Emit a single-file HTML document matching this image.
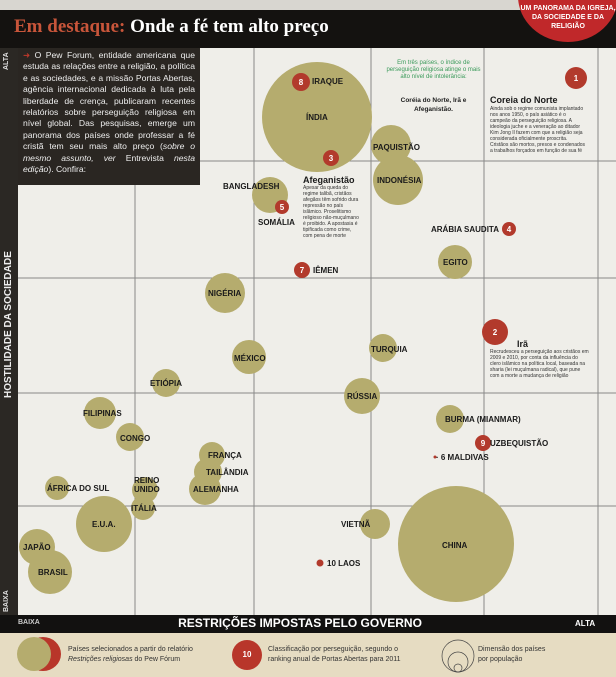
<!DOCTYPE html>
<html><head><meta charset="utf-8"><style>
body{margin:0;width:616px;height:677px;overflow:hidden;background:#efeee9;font-family:"Liberation Sans",sans-serif;position:relative}
.a{position:absolute}
.l{position:absolute;font-weight:bold;font-size:8px;color:#1a1a1a;white-space:nowrap}
.t{position:absolute;font-size:5px;color:#333;line-height:6px}
</style></head><body>
<div class="a" style="left:0;top:0;width:616px;height:10px;background:#d8d6d0"></div>
<div class="a" style="left:0;top:10px;width:616px;height:38px;background:#141210"></div>
<div class="a" style="left:14px;top:16px;font-family:'Liberation Serif',serif;font-weight:bold;font-size:19px;color:#fff"><span style="color:#c8553a">Em destaque:</span> Onde a fé tem alto preço</div>
<div class="a" style="left:518px;top:-50px;width:100px;height:92px;border-radius:50%;background:#c0282a"></div>
<div class="a" style="left:518px;top:4px;width:100px;text-align:center;font-size:7px;font-weight:bold;color:#fff;line-height:9px">UM PANORAMA DA IGREJA,<br>DA SOCIEDADE E DA<br>RELIGIÃO</div>
<div class="a" style="left:0;top:48px;width:18px;height:584px;background:#2b2824"></div>
<div class="a" style="left:3px;top:70px;transform:rotate(-90deg);transform-origin:left top;font-size:7px;font-weight:bold;color:#ddd">ALTA</div>
<div class="a" style="left:3px;top:398px;transform:rotate(-90deg);transform-origin:left top;font-size:10px;font-weight:bold;color:#eee;white-space:nowrap">HOSTILIDADE DA SOCIEDADE</div>
<div class="a" style="left:3px;top:612px;transform:rotate(-90deg);transform-origin:left top;font-size:7px;font-weight:bold;color:#ddd">BAIXA</div>
<svg class="a" style="left:18px;top:48px" width="598" height="567">
<g stroke="#888" stroke-width="1" fill="none">
<line x1="117" y1="0" x2="117" y2="567"/><line x1="236" y1="0" x2="236" y2="567"/><line x1="353" y1="0" x2="353" y2="567"/><line x1="466" y1="0" x2="466" y2="567"/><line x1="580" y1="0" x2="580" y2="567"/>
<line x1="0" y1="113" x2="598" y2="113"/><line x1="0" y1="230" x2="598" y2="230"/><line x1="0" y1="345" x2="598" y2="345"/><line x1="0" y1="458" x2="598" y2="458"/>
</g>
<g fill="#b5ac6e">
<circle cx="299" cy="69" r="55"/><circle cx="373" cy="97" r="20"/><circle cx="380" cy="132" r="25"/><circle cx="252" cy="147" r="18"/><circle cx="437" cy="214" r="17"/><circle cx="207" cy="245" r="20"/><circle cx="231" cy="309" r="17"/><circle cx="365" cy="300" r="14"/><circle cx="148" cy="335" r="14"/><circle cx="344" cy="348" r="18"/><circle cx="82" cy="365" r="16"/><circle cx="112" cy="389" r="14"/><circle cx="432" cy="371" r="14"/><circle cx="194" cy="407" r="13"/><circle cx="190" cy="424" r="14"/><circle cx="187" cy="441" r="16"/><circle cx="127" cy="442" r="13"/><circle cx="39" cy="440" r="12"/><circle cx="125" cy="460" r="12"/><circle cx="86" cy="476" r="28"/><circle cx="19" cy="499" r="18"/><circle cx="32" cy="524" r="22"/><circle cx="357" cy="476" r="15"/><circle cx="438" cy="496" r="58"/>
</g>
<g fill="#b23a2c">
<circle cx="283" cy="34" r="9"/><circle cx="313" cy="110" r="8"/><circle cx="264" cy="159" r="7"/><circle cx="284" cy="222" r="8"/><circle cx="491" cy="181" r="7"/><circle cx="558" cy="30" r="11"/><circle cx="477" cy="284" r="13"/><circle cx="465" cy="395" r="8"/><circle cx="302" cy="515" r="3.5"/><circle cx="417" cy="409" r="1.5"/>
</g>
<g fill="#fff" font-size="8" font-weight="bold" text-anchor="middle">
<text x="283" y="37">8</text><text x="313" y="113">3</text><text x="264" y="162">5</text><text x="284" y="225">7</text><text x="491" y="184">4</text><text x="558" y="33">1</text><text x="477" y="287">2</text><text x="465" y="398">9</text>
</g>
</svg>
<div class="a" style="left:18px;top:48px;width:182px;height:137px;background:#2a2622"></div>
<div class="a" style="left:23px;top:50px;width:172px;font-size:8.6px;line-height:11.4px;color:#eee;text-align:justify"><span style="color:#c0392b">➜</span> O Pew Forum, entidade americana que estuda as relações entre a religião, a política e as sociedades, e a missão Portas Abertas, agência internacional dedicada à luta pela liberdade de crença, publicaram recentes relatórios sobre perseguição religiosa em nível global. Das pesquisas, emerge um panorama dos países onde professar a fé cristã tem seu mais alto preço (<i>sobre o mesmo assunto, ver</i> Entrevista <i>nesta edição</i>). Confira:</div>
<div class="l" style="left:312px;top:77px">IRAQUE</div>
<div class="l" style="left:306px;top:113px">ÍNDIA</div>
<div class="l" style="left:373px;top:143px">PAQUISTÃO</div>
<div class="l" style="left:377px;top:176px">INDONÉSIA</div>
<div class="l" style="left:223px;top:182px">BANGLADESH</div>
<div class="l" style="left:258px;top:218px">SOMÁLIA</div>
<div class="l" style="left:313px;top:266px">IÊMEN</div>
<div class="l" style="left:431px;top:225px">ARÁBIA SAUDITA</div>
<div class="l" style="left:443px;top:258px">EGITO</div>
<div class="l" style="left:208px;top:289px">NIGÉRIA</div>
<div class="l" style="left:234px;top:354px">MÉXICO</div>
<div class="l" style="left:371px;top:345px">TURQUIA</div>
<div class="l" style="left:150px;top:379px">ETIÓPIA</div>
<div class="l" style="left:347px;top:392px">RÚSSIA</div>
<div class="l" style="left:83px;top:409px">FILIPINAS</div>
<div class="l" style="left:120px;top:434px">CONGO</div>
<div class="l" style="left:445px;top:415px">BURMA (MIANMAR)</div>
<div class="l" style="left:490px;top:439px">UZBEQUISTÃO</div>
<div class="l" style="left:436px;top:453px">· 6 MALDIVAS</div>
<div class="l" style="left:208px;top:451px">FRANÇA</div>
<div class="l" style="left:206px;top:468px">TAILÂNDIA</div>
<div class="l" style="left:193px;top:485px">ALEMANHA</div>
<div class="l" style="left:134px;top:476px;line-height:9px">REINO<br>UNIDO</div>
<div class="l" style="left:47px;top:484px">ÁFRICA DO SUL</div>
<div class="l" style="left:131px;top:504px">ITÁLIA</div>
<div class="l" style="left:92px;top:520px">E.U.A.</div>
<div class="l" style="left:23px;top:543px">JAPÃO</div>
<div class="l" style="left:38px;top:568px">BRASIL</div>
<div class="l" style="left:341px;top:520px">VIETNÃ</div>
<div class="l" style="left:442px;top:541px">CHINA</div>
<div class="l" style="left:327px;top:559px">10 LAOS</div>
<div class="l" style="left:303px;top:175px;font-size:9px">Afeganistão</div>
<div class="t" style="left:303px;top:185px;width:58px">Apesar da queda do regime talibã, cristãos afegãos têm sofrido dura repressão no país islâmico. Proselitismo religioso não-muçulmano é proibido. A apostasia é tipificada como crime, com pena de morte</div>
<div class="a" style="left:386px;top:60px;width:95px;text-align:center;font-size:6px;color:#3a9a5a;line-height:7px">Em três países, o índice de perseguição religiosa atinge o mais alto nível de intolerância:</div>
<div class="a" style="left:386px;top:96px;width:95px;text-align:center;font-size:6.5px;font-weight:bold;color:#222;line-height:9px">Coréia do Norte, Irã e Afeganistão.</div>
<div class="l" style="left:490px;top:95px;font-size:9px">Coreia do Norte</div>
<div class="t" style="left:490px;top:106px;width:96px">Ainda sob o regime comunista implantado nos anos 1950, o país asiático é o campeão da perseguição religiosa. A ideologia juche e a veneração ao ditador Kim Jong Il fazem com que a religião seja considerada oficialmente proscrita. Cristãos são mortos, presos e condenados a trabalhos forçados em função de sua fé</div>
<div class="l" style="left:517px;top:339px;font-size:9px">Irã</div>
<div class="t" style="left:490px;top:349px;width:100px">Recrudesceu a perseguição aos cristãos em 2009 e 2010, por conta da influência do clero islâmico na política local, baseada na sharia (lei muçulmana radical), que pune com a morte a mudança de religião</div>
<div class="a" style="left:0;top:615px;width:616px;height:18px;background:#121110"></div>
<div class="a" style="left:18px;top:619px;font-size:7px;font-weight:bold;color:#ccc">BAIXA</div>
<div class="a" style="left:0;top:616px;width:600px;text-align:center;font-size:12px;font-weight:bold;color:#fff">RESTRIÇÕES IMPOSTAS PELO GOVERNO</div>
<div class="a" style="left:575px;top:619px;font-size:8px;font-weight:bold;color:#fff">ALTA</div>
<div class="a" style="left:0;top:633px;width:616px;height:44px;background:#e6dcc2"></div>
<div class="a" style="left:25px;top:637px;width:36px;height:34px;border-radius:50%;background:#b8362a"></div>
<div class="a" style="left:17px;top:637px;width:34px;height:34px;border-radius:50%;background:#b5ac6e"></div>
<div class="a" style="left:68px;top:645px;font-size:7px;color:#333;line-height:10px">Países selecionados a partir do relatório<br><i>Restrições religiosas</i> do Pew Fórum</div>
<div class="a" style="left:232px;top:640px;width:30px;height:30px;border-radius:50%;background:#b8362a;color:#fff;font-size:8px;font-weight:bold;text-align:center;line-height:30px">10</div>
<div class="a" style="left:268px;top:645px;font-size:7px;color:#333;line-height:10px">Classificação por perseguição, segundo o<br>ranking anual de Portas Abertas para 2011</div>
<svg class="a" style="left:440px;top:638px" width="36" height="36"><g fill="none" stroke="#444" stroke-width=".7"><circle cx="18" cy="18" r="16"/><circle cx="18" cy="24" r="10"/><circle cx="18" cy="30" r="4"/></g></svg>
<div class="a" style="left:478px;top:645px;font-size:7px;color:#333;line-height:10px">Dimensão dos países<br>por população</div>
</body></html>
